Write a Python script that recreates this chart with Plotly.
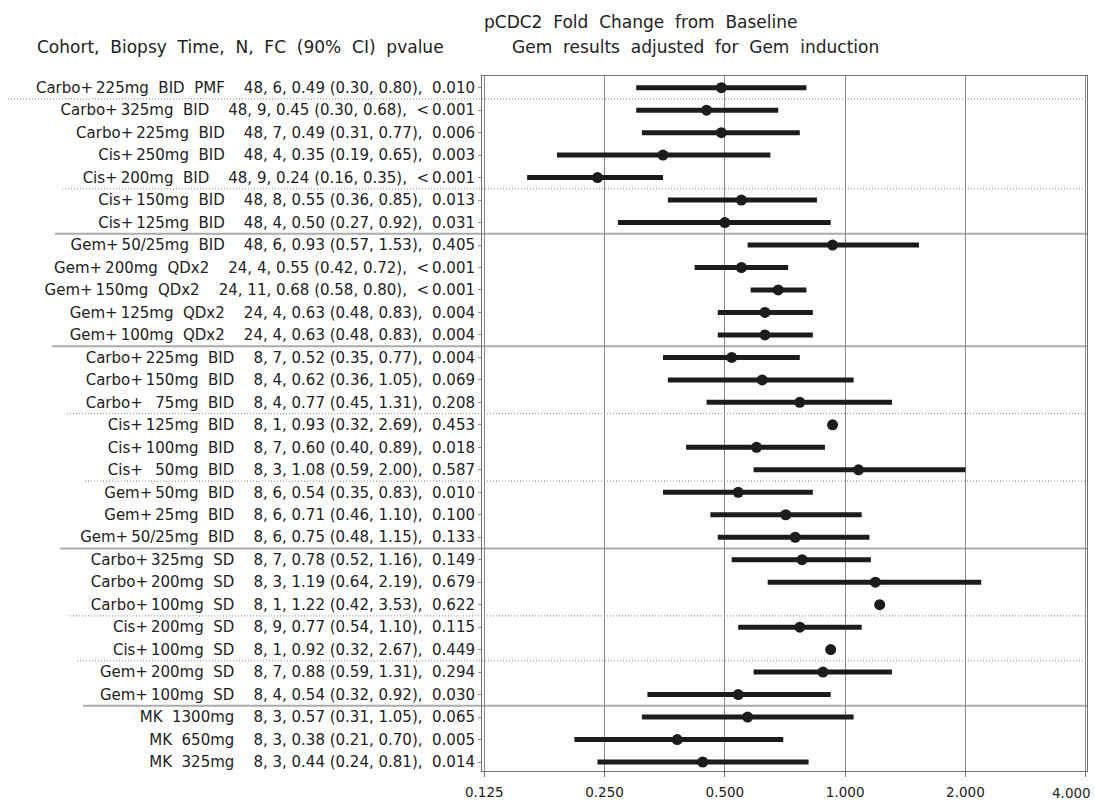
import math
import plotly.graph_objects as go

cohorts = [
    "Carbo+225mg BID PMF", "Carbo+325mg BID", "Carbo+225mg BID", "Cis+250mg BID",
    "Cis+200mg BID", "Cis+150mg BID", "Cis+125mg BID", "Gem+50/25mg BID",
    "Gem+200mg QDx2", "Gem+150mg QDx2", "Gem+125mg QDx2", "Gem+100mg QDx2",
    "Carbo+225mg BID", "Carbo+150mg BID", "Carbo+\u200775mg BID", "Cis+125mg BID",
    "Cis+100mg BID", "Cis+\u200750mg BID", "Gem+50mg BID", "Gem+25mg BID",
    "Gem+50/25mg BID", "Carbo+325mg SD", "Carbo+200mg SD", "Carbo+100mg SD",
    "Cis+200mg SD", "Cis+100mg SD", "Gem+200mg SD", "Gem+100mg SD",
    "MK 1300mg", "MK 650mg", "MK 325mg",
]
biopsy_time = [48, 48, 48, 48, 48, 48, 48, 48, 24, 24, 24, 24,
               8, 8, 8, 8, 8, 8, 8, 8, 8, 8, 8, 8, 8, 8, 8, 8, 8, 8, 8]
n_subj = [6, 9, 7, 4, 9, 8, 4, 6, 4, 11, 4, 4,
          7, 4, 4, 1, 7, 3, 6, 6, 6, 7, 3, 1, 9, 1, 7, 4, 3, 3, 3]
fc = [0.49, 0.45, 0.49, 0.35, 0.24, 0.55, 0.50, 0.93, 0.55, 0.68, 0.63, 0.63,
      0.52, 0.62, 0.77, 0.93, 0.60, 1.08, 0.54, 0.71, 0.75, 0.78, 1.19, 1.22,
      0.77, 0.92, 0.88, 0.54, 0.57, 0.38, 0.44]
ci_low = [0.30, 0.30, 0.31, 0.19, 0.16, 0.36, 0.27, 0.57, 0.42, 0.58, 0.48, 0.48,
          0.35, 0.36, 0.45, 0.32, 0.40, 0.59, 0.35, 0.46, 0.48, 0.52, 0.64, 0.42,
          0.54, 0.32, 0.59, 0.32, 0.31, 0.21, 0.24]
ci_high = [0.80, 0.68, 0.77, 0.65, 0.35, 0.85, 0.92, 1.53, 0.72, 0.80, 0.83, 0.83,
           0.77, 1.05, 1.31, 2.69, 0.89, 2.00, 0.83, 1.10, 1.15, 1.16, 2.19, 3.53,
           1.10, 2.67, 1.31, 0.92, 1.05, 0.70, 0.81]
pvalue = ["0.010", "<\u20090.001", "0.006", "0.003", "<\u20090.001", "0.013", "0.031", "0.405",
          "<\u20090.001", "<\u20090.001", "0.004", "0.004", "0.004", "0.069", "0.208", "0.453",
          "0.018", "0.587", "0.010", "0.100", "0.133", "0.149", "0.679", "0.622",
          "0.115", "0.449", "0.294", "0.030", "0.065", "0.005", "0.014"]

# separators after row index (0-based): (row, style, left start in px)
separators = [(0, "dot", 8), (4, "dot", 62), (6, "solid", 55), (11, "solid", 52),
              (14, "dot", 67), (17, "dot", 85), (20, "solid", 60), (23, "dot", 70),
              (25, "dot", 77), (27, "solid", 83)]

x_ticks = [0.125, 0.25, 0.5, 1.0, 2.0, 4.0]
x_ticktext = ["0.125", "0.250", "0.500", "1.000", "2.000", "4.000"]

W, H = 1095, 801
L, R, T, B = 482, 8, 76, 30
plot_w = W - L - R
TICKLEN, STANDOFF = 5, 4


def fmt_cohort(c):
    return c.replace("+", "+\u2009").replace(" ", "  ")


rows = list(range(len(cohorts)))
labels = [f"{fmt_cohort(c)}    {t}, {n}, {f:.2f} ({lo:.2f}, {hi:.2f}),  {p}"
          for c, t, n, f, lo, hi, p in zip(cohorts, biopsy_time, n_subj, fc, ci_low, ci_high, pvalue)]

err_plus = [(h - f) if n > 1 else 0 for f, h, n in zip(fc, ci_high, n_subj)]
err_minus = [(f - l) if n > 1 else 0 for f, l, n in zip(fc, ci_low, n_subj)]

fig = go.Figure()
fig.add_trace(go.Scatter(
    x=fc, y=rows, mode="markers",
    marker=dict(size=11, color="#1c1c1c"),
    error_x=dict(type="data", symmetric=False, array=err_plus, arrayminus=err_minus,
                 thickness=5, width=0, color="#1c1c1c"),
    showlegend=False, hoverinfo="skip",
))

shapes = []
for r, style, px in separators:
    shapes.append(dict(
        type="line", xref="paper", yref="y",
        x0=(px - L) / plot_w, x1=1, y0=r + 0.5, y1=r + 0.5,
        line=dict(color="#ababab" if style == "solid" else "#a0a0a0",
                  width=2 if style == "solid" else 1.2,
                  dash="solid" if style == "solid" else "1px,2px"),
        layer="below",
    ))

font_family = "DejaVu Sans, Liberation Sans, Arial, sans-serif"

annotations = [
    dict(text="pCDC2  Fold  Change  from  Baseline", xref="paper", yref="paper",
         x=(640 - L) / plot_w, y=1, yshift=54, xanchor="center", yanchor="middle",
         showarrow=False, font=dict(size=17)),
    dict(text="Cohort,  Biopsy  Time,  N,  FC  (90%  CI)  pvalue", xref="paper", yref="paper",
         x=(240 - L) / plot_w, y=1, yshift=29, xanchor="center", yanchor="middle",
         showarrow=False, font=dict(size=17)),
    dict(text="Gem  results  adjusted  for  Gem  induction", xref="paper", yref="paper",
         x=(695 - L) / plot_w, y=1, yshift=29, xanchor="center", yanchor="middle",
         showarrow=False, font=dict(size=17)),
    # last x tick label, pulled left to stay inside the page as in the reference
    dict(text=x_ticktext[-1], xref="x", yref="paper",
         x=math.log10(x_ticks[-1]), y=0, xanchor="right", yanchor="middle",
         xshift=7, yshift=-22, showarrow=False, font=dict(size=13.5)),
]

fig.update_layout(
    width=W, height=H,
    margin=dict(l=L, r=R, t=T, b=B, autoexpand=False),
    paper_bgcolor="white", plot_bgcolor="white",
    font=dict(family=font_family, size=15, color="#222222"),
    shapes=shapes,
    annotations=annotations,
)

fig.update_xaxes(
    type="log", range=[-0.9088, 0.6052], autorange=False, automargin=False,
    tickvals=x_ticks, ticktext=x_ticktext[:-1] + [""],
    showgrid=True, gridcolor="#8a8a8a", gridwidth=1,
    showline=True, mirror=True, linecolor="#707070", linewidth=1,
    ticks="outside", ticklen=TICKLEN, tickcolor="#707070",
    tickfont=dict(size=13.5), zeroline=False,
    ticklabelstandoff=STANDOFF,
)
fig.update_yaxes(
    range=[len(cohorts) - 0.6, -0.52], autorange=False, automargin=False,
    tickvals=rows, ticktext=labels,
    showgrid=False, zeroline=False,
    showline=True, mirror=True, linecolor="#707070", linewidth=1,
    ticks="outside", ticklen=3, tickcolor="#909090",
    tickfont=dict(size=15),
)

fig.write_html("out.html")
